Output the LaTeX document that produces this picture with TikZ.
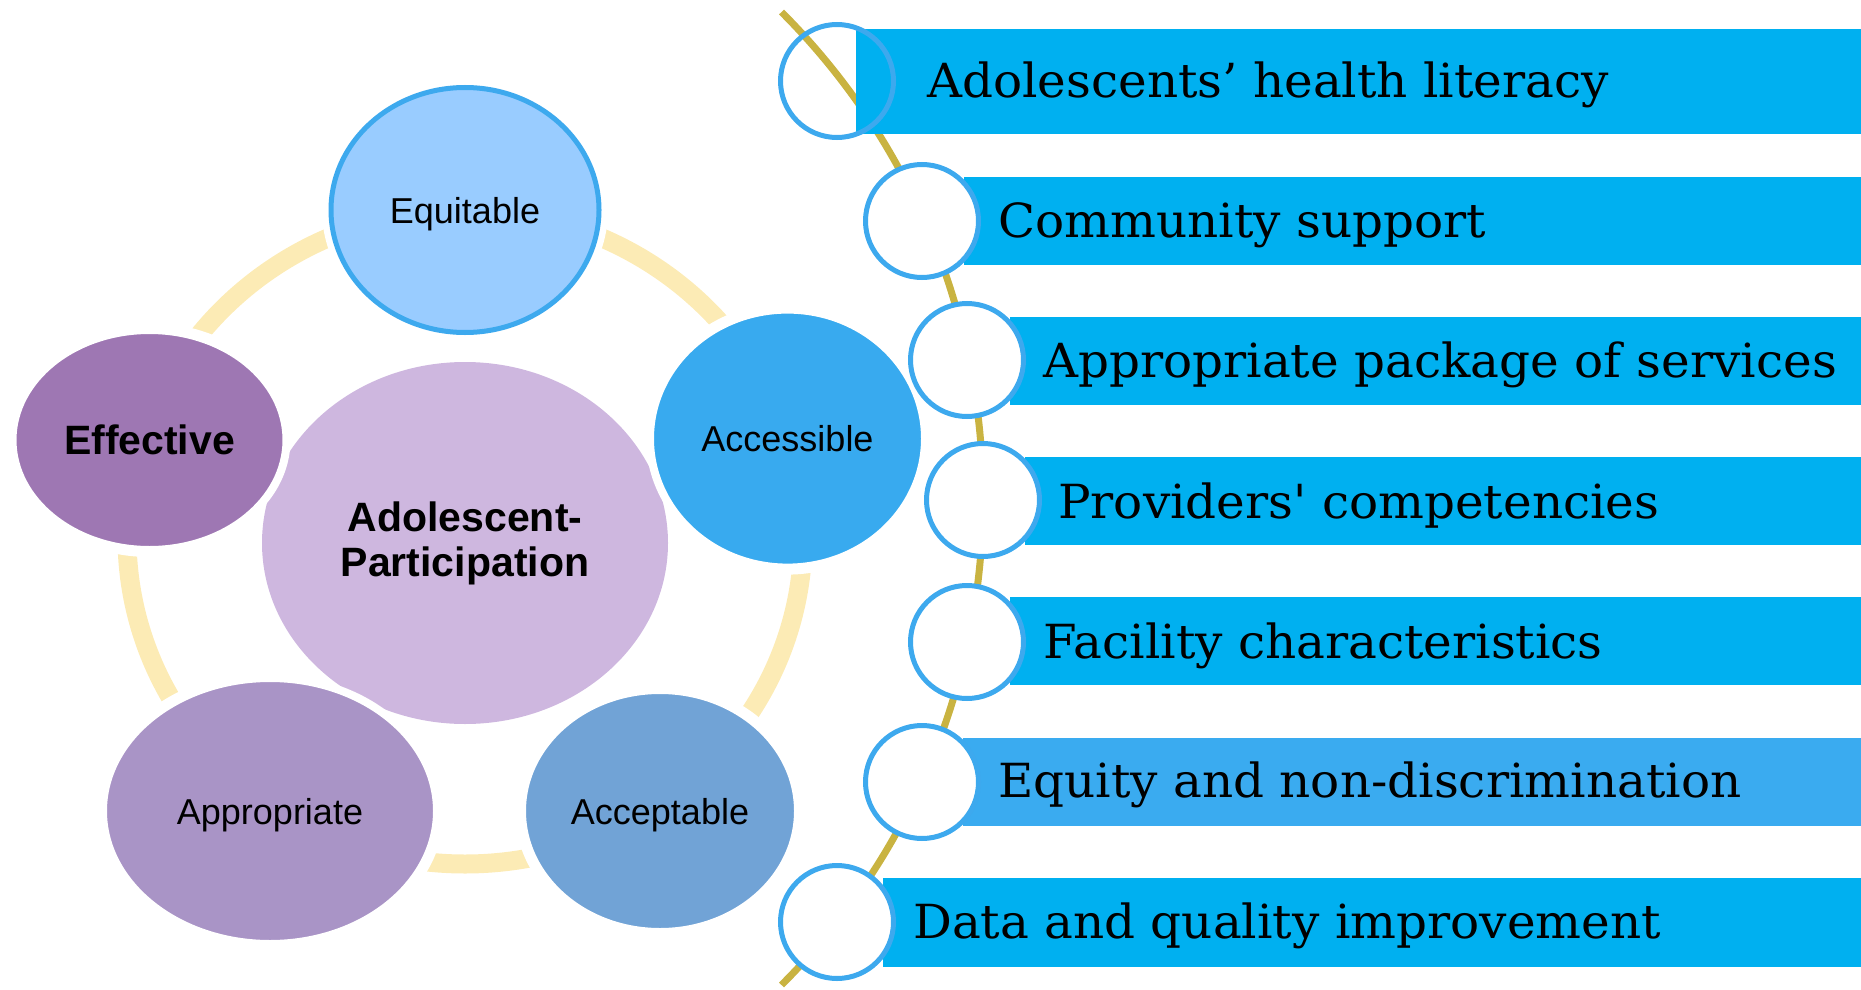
\documentclass[tikz,border=0pt]{standalone}
\usepackage{fontspec}
\usetikzlibrary{shapes.geometric}
\newfontfamily\arialf{Liberation Sans}
\newfontfamily\slabf{DejaVu Serif}[Ligatures=TeXOff]
\definecolor{ringc}{HTML}{FCEBB5}
\definecolor{eqc}{HTML}{99CCFF}
\definecolor{accc}{HTML}{38AAEF}
\definecolor{acpc}{HTML}{71A3D6}
\definecolor{appc}{HTML}{A994C6}
\definecolor{effc}{HTML}{9E77B3}
\definecolor{ctrc}{HTML}{CEB7DF}
\definecolor{cbord}{HTML}{3DA9EE}
\definecolor{barc}{HTML}{00B0F0}
\definecolor{barlc}{HTML}{3AABF0}
\definecolor{goldc}{HTML}{C9B341}
\newcommand{\slabtxt}[1]{\scalebox{1.03}[1]{#1}}
\tikzset{
  petal/.style={ellipse, inner sep=0pt, draw=white, line width=8pt,
    font=\arialf\fontsize{36}{43}\selectfont, text height=26pt, text depth=0pt},
  boldpetal/.style={petal, font=\arialf\bfseries\fontsize{41}{45}\selectfont, text height=29pt},
  halo/.style={fill=white},
  knob/.style={circle, minimum size=113pt, inner sep=0pt, draw=cbord, line width=5pt},
  barfill/.style={fill=barc},
  bartext/.style={anchor=base west, inner sep=0pt, font=\slabf\fontsize{47}{50}\selectfont},
}
\begin{document}
\begin{tikzpicture}[x=1pt,y=-1pt]
\useasboundingbox (0,0) rectangle (1861,990);
% ring
\draw[ringc, line width=19pt] (465,537) ellipse [x radius=338pt, y radius=327pt];
% halos
\fill[halo] (465,210) ellipse [x radius=143pt, y radius=131pt];
\fill[halo] (787.5,438.6) ellipse [x radius=144pt, y radius=136pt];
\fill[halo] (660,811) ellipse [x radius=145pt, y radius=128pt];
\fill[halo] (270,811) ellipse [x radius=174pt, y radius=140pt];
\fill[halo] (149.5,440) ellipse [x radius=144pt, y radius=117pt];
% center
\node[ellipse, inner sep=0pt, fill=ctrc, minimum width=406pt, minimum height=362pt,
  align=center, font=\arialf\bfseries\fontsize{41}{45}\selectfont] (ctr) at (465,543) {Adolescent-\\Participation};
% petals
\node[petal, fill=eqc, minimum width=268pt, minimum height=245pt, draw=cbord, line width=5pt,
  preaction={draw=white, line width=13pt}] (eq) at (465,210) {Equitable};
\node[petal, fill=accc, minimum width=275pt, minimum height=258pt] (acc) at (787.5,438.6) {Accessible};
\node[petal, fill=acpc, minimum width=276pt, minimum height=242pt] (acp) at (660,811) {Acceptable};
\node[petal, fill=appc, minimum width=334pt, minimum height=266pt] (app) at (270,811) {Appropriate};
\node[boldpetal, fill=effc, minimum width=274pt, minimum height=220pt] (eff) at (149.5,440) {Effective};
% gold arc
\draw[goldc, line width=7pt] (295,498.5) ++(45:688pt) arc[start angle=45, end angle=-45, radius=688pt];
% bars
\fill[barfill] (856,29) rectangle (1861,134);
\fill[barfill] (964,177) rectangle (1861,265);
\fill[barfill] (1010,317) rectangle (1861,405);
\fill[barfill] (1025,457) rectangle (1861,545);
\fill[barfill] (1010,597) rectangle (1861,685);
\fill[barlc] (963,738) rectangle (1861,826);
\fill[barfill] (883,878) rectangle (1861,967);
% knobs
\node[knob] (k1) at (837,81) {};
\node[knob, fill=white] (k2) at (922,221) {};
\node[knob, fill=white] (k3) at (967,360) {};
\node[knob, fill=white] (k4) at (983,500) {};
\node[knob, fill=white] (k5) at (967,642) {};
\node[knob, fill=white] (k6) at (922,782) {};
\node[knob, fill=white] (k7) at (837,922) {};
% texts
\node[bartext] (t1) at (927,98) {\slabtxt{Adolescents’ health literacy}};
\node[bartext] (t2) at (998,237) {\slabtxt{Community support}};
\node[bartext] (t3) at (1043,377) {\slabtxt{Appropriate package of services}};
\node[bartext] (t4) at (1058,518) {\slabtxt{Providers' competencies}};
\node[bartext] (t5) at (1043,658) {\slabtxt{Facility characteristics}};
\node[bartext] (t6) at (998,797) {\slabtxt{Equity and non-discrimination}};
\node[bartext] (t7) at (913,938) {\slabtxt{Data and quality improvement}};
\end{tikzpicture}
\end{document}
